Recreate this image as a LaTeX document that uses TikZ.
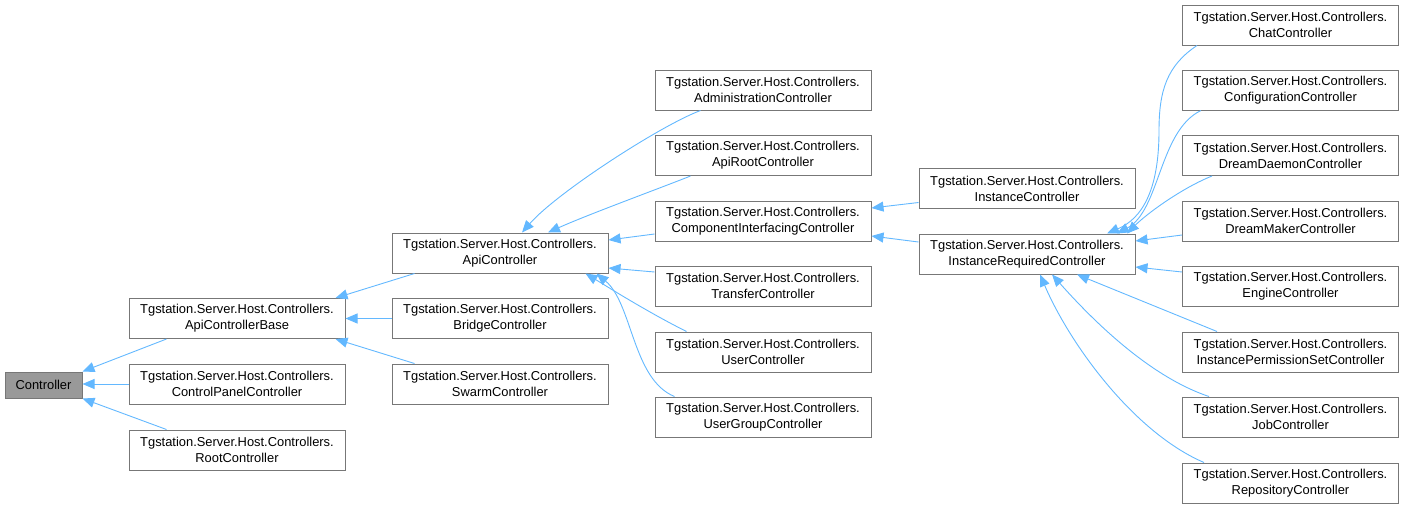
\documentclass[tikz,border=0pt]{standalone}
\usepackage{fontspec}
\setmainfont{Liberation Sans}
\usepackage{tikz}
\usetikzlibrary{math,calc,arrows.meta}

\definecolor{boxGray}{HTML}{777777}
\definecolor{baseFill}{HTML}{999999}
\definecolor{edgeBlue}{HTML}{63B8FF}

\tikzset{
  cls/.style={draw=boxGray, fill=white, line width=1pt, inner sep=0pt,
    minimum width=216pt, minimum height=40pt, align=center,
    font=\fontsize{12.9}{16}\selectfont},
  inh/.style={draw=edgeBlue, line width=0.9pt, -{Triangle[length=12pt, width=10pt]}}
}

\newcommand{\tgs}{Tgstation.Server.Host.Controllers.\\}

\begin{document}
\begin{tikzpicture}[x=1pt, y=-1pt]
  \tikzmath{\xa = 237; \xb = 500; \xc = 763; \xd = 1027; \xe = 1290.5;}

  \useasboundingbox (0, 0) rectangle (1404, 509);

  \node[cls, fill=baseFill, minimum width=77pt, minimum height=26pt] (controller) at (43.5, 385) {Controller};

  \node[cls] (apibase) at (\xa, 318.5) {\tgs ApiControllerBase};
  \node[cls] (cpanel) at (\xa, 384) {\tgs ControlPanelController};
  \node[cls] (root) at (\xa, 450) {\tgs RootController};

  \node[cls] (api) at (\xb, 253) {\tgs ApiController};
  \node[cls] (bridge) at (\xb, 318.5) {\tgs BridgeController};
  \node[cls] (swarm) at (\xb, 384) {\tgs SwarmController};

  \node[cls] (admin) at (\xc, 90) {\tgs AdministrationController};
  \node[cls] (apiroot) at (\xc, 155.5) {\tgs ApiRootController};
  \node[cls] (compint) at (\xc, 221) {\tgs ComponentInterfacingController};
  \node[cls] (transfer) at (\xc, 286) {\tgs TransferController};
  \node[cls] (user) at (\xc, 352) {\tgs UserController};
  \node[cls] (usergroup) at (\xc, 417) {\tgs UserGroupController};

  \node[cls] (instance) at (\xd, 188.5) {\tgs InstanceController};
  \node[cls] (ireq) at (\xd, 254) {\tgs InstanceRequiredController};

  \node[cls] (chat) at (\xe, 25) {\tgs ChatController};
  \node[cls] (config) at (\xe, 90) {\tgs ConfigurationController};
  \node[cls] (dd) at (\xe, 155.5) {\tgs DreamDaemonController};
  \node[cls] (dm) at (\xe, 221) {\tgs DreamMakerController};
  \node[cls] (engine) at (\xe, 286) {\tgs EngineController};
  \node[cls] (ips) at (\xe, 352) {\tgs InstancePermissionSetController};
  \node[cls] (job) at (\xe, 417) {\tgs JobController};
  \node[cls] (repo) at (\xe, 483) {\tgs RepositoryController};

  % first level
  \draw[inh] ($(apibase.south west)+(38,0)$) -- (controller.north east);
  \draw[inh] (cpanel.west) -- (cpanel.west -| controller.east);
  \draw[inh] ($(root.north west)+(38,0)$) -- (controller.south east);

  \draw[inh] ($(api.south west)+(23,0)$) -- ($(apibase.north east)+(-10,0)$);
  \draw[inh] (bridge.west) -- (apibase.east);
  \draw[inh] ($(swarm.north west)+(23,0)$) -- ($(apibase.south east)+(-10,0)$);

  % api controllers
  \draw[inh] ($(admin.south west)+(46,0)$) .. controls +(-40,15) and +(35,-40) .. ($(api.north)+(22,0)$);
  \draw[inh] ($(apiroot.south west)+(36,0)$) .. controls +(-30,12) and +(40,-18) .. ($(api.north)+(48,0)$);
  \draw[inh] ($(compint.west)+(0,13)$) -- ($(api.east)+(0,-13)$);
  \draw[inh] ($(transfer.west)+(0,-14)$) -- ($(api.east)+(0,15)$);
  \draw[inh] ($(user.north west)+(32,0)$) .. controls +(-40,-20) and +(20,12) .. ($(api.south east)+(-23,0)$);
  \draw[inh] ($(usergroup.north west)+(20,0)$) .. controls +(-42,-17) and +(36,30) .. ($(api.south east)+(-12,0)$);

  \draw[inh] ($(instance.west)+(0,14)$) -- ($(compint.east)+(0,-13)$);
  \draw[inh] ($(ireq.west)+(0,-12)$) -- ($(compint.east)+(0,15)$);

  % instance controllers
  \draw[inh] ($(chat.south west)+(15,0)$) .. controls +(-30,20) and +(0,-40) .. ++(-38,85)
    .. controls +(0,60) and +(35,-15) .. ($(ireq.north)+(80,0)$);
  \draw[inh] ($(config.south west)+(19,0)$) .. controls +(-42,20) and +(43,-23) .. ($(ireq.north)+(90,0)$);
  \draw[inh] ($(dd.south west)+(30,0)$) .. controls +(-30,12) and +(20,-20) .. ($(ireq.north)+(100,0)$);
  \draw[inh] ($(dm.west)+(0,14)$) -- ($(ireq.east)+(0,-13)$);
  \draw[inh] ($(engine.west)+(0,-14)$) -- ($(ireq.east)+(0,13)$);
  \draw[inh] ($(ips.north west)+(35,0)$) -- ($(ireq.south)+(50,0)$);
  \draw[inh] ($(job.north west)+(27,0)$) .. controls +(-60,-20) and +(40,45) .. ($(ireq.south)+(25,0)$);
  \draw[inh] ($(repo.north west)+(22,0)$) .. controls +(-70,-30) and +(30,70) .. ($(ireq.south)+(13,0)$);
\end{tikzpicture}
\end{document}
